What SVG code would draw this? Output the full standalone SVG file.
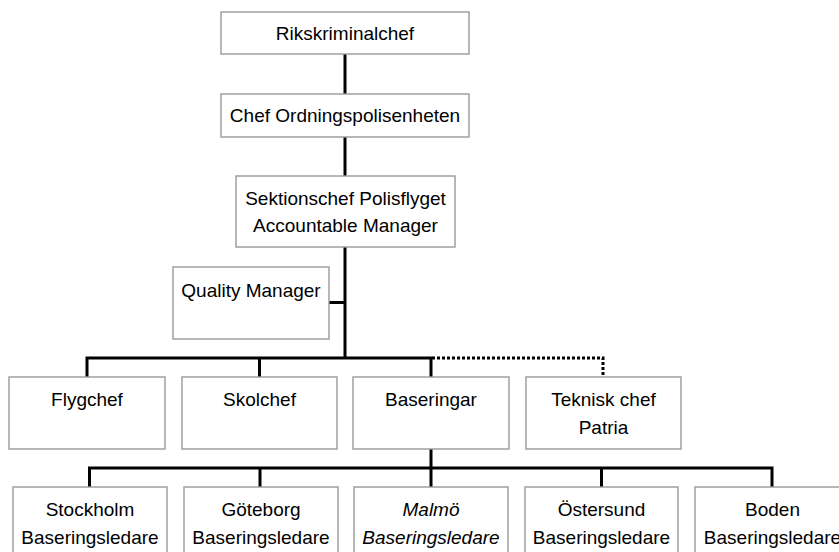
<svg xmlns="http://www.w3.org/2000/svg" width="839" height="552" viewBox="0 0 839 552">
<style>
.box{fill:#fff;stroke:#999;stroke-width:1.4}
.t{font-family:"Liberation Sans",Arial,sans-serif;font-size:19px;fill:#000;text-anchor:middle}
.i{font-style:italic}
.c{stroke:#000;stroke-width:3;fill:none;stroke-linecap:square}
.d{stroke:#000;stroke-width:3;fill:none;stroke-dasharray:3 2}
</style>
<rect width="839" height="552" fill="#fff"/>
<g id="connectors">
<path class="c" d="M345 54V94M345 137V176M345 247V358M329 302.5H345M87 358H431M87 358V377M259.5 358V377M431 358V377M431 449V468M89.5 468H772M89.5 468V487M260 468V487M431 468V487M601.5 468V487M772 468V487"/>
<path class="d" d="M432 358H603V377"/>
</g>
<g id="rikskriminalchef"><rect class="box" x="221" y="12" width="248" height="42"/><text class="t" x="345" y="40">Rikskriminalchef</text></g>
<g id="chef-ordningspolisenheten"><rect class="box" x="221" y="94" width="248" height="43"/><text class="t" x="345" y="122">Chef Ordningspolisenheten</text></g>
<g id="sektionschef"><rect class="box" x="236" y="176" width="219" height="71"/><text class="t" x="345.5" y="204.5">Sektionschef Polisflyget</text><text class="t" x="345.5" y="231.5">Accountable Manager</text></g>
<g id="quality-manager"><rect class="box" x="173" y="267" width="156" height="72"/><text class="t" x="251" y="297">Quality Manager</text></g>
<g id="flygchef"><rect class="box" x="9" y="377" width="156" height="72"/><text class="t" x="87" y="406">Flygchef</text></g>
<g id="skolchef"><rect class="box" x="182" y="377" width="155" height="72"/><text class="t" x="259.5" y="406">Skolchef</text></g>
<g id="baseringar"><rect class="box" x="353" y="377" width="156" height="72"/><text class="t" x="431" y="406">Baseringar</text></g>
<g id="teknisk-chef"><rect class="box" x="526" y="377" width="155" height="72"/><text class="t" x="603.5" y="406">Teknisk chef</text><text class="t" x="603.5" y="434">Patria</text></g>
<g id="stockholm"><rect class="box" x="13" y="487" width="154" height="80"/><text class="t" x="90" y="516">Stockholm</text><text class="t" x="90" y="543.5">Baseringsledare</text></g>
<g id="goteborg"><rect class="box" x="184" y="487" width="154" height="80"/><text class="t" x="261" y="516">Göteborg</text><text class="t" x="261" y="543.5">Baseringsledare</text></g>
<g id="malmo"><rect class="box" x="354" y="487" width="154" height="80"/><text class="t i" x="431" y="516">Malmö</text><text class="t i" x="431" y="543.5">Baseringsledare</text></g>
<g id="ostersund"><rect class="box" x="525" y="487" width="153" height="80"/><text class="t" x="601.5" y="516">Östersund</text><text class="t" x="601.5" y="543.5">Baseringsledare</text></g>
<g id="boden"><rect class="box" x="695" y="487" width="155" height="80"/><text class="t" x="772.5" y="516">Boden</text><text class="t" x="772.5" y="543.5">Baseringsledare</text></g>
</svg>
